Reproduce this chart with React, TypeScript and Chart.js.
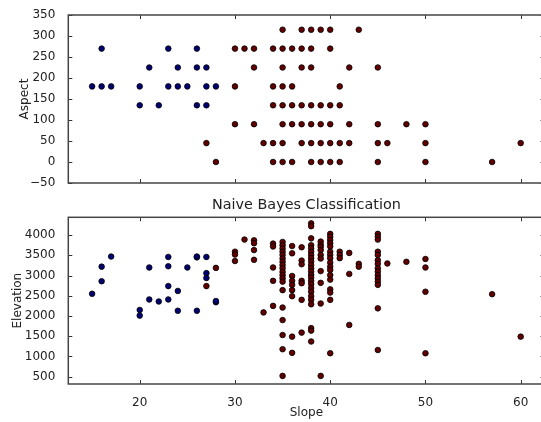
import React, { useEffect, useRef } from "react";
import { Chart, registerables } from "chart.js";

Chart.register(...registerables);

// Slope vs Aspect, predicted class 0
const aspectSlope0 = [16, 23, 26, 21, 24, 26, 27, 15, 16, 17, 20, 23, 24, 25, 27, 28, 20, 22, 26, 27];
const aspectValue0 = [270, 270, 270, 225, 225, 225, 225, 180, 180, 180, 180, 180, 180, 180, 180, 180, 135, 135, 135, 135];

// Slope vs Aspect, predicted class 1
const aspectSlope1 = [
  35, 37, 38, 39, 40, 43,
  30, 31, 32, 34, 35, 36, 37, 38, 40,
  32, 35, 37, 38, 42, 45,
  30, 34, 35, 36, 41,
  34, 35, 36, 37, 38, 39, 40, 41,
  30, 32, 35, 36, 37, 38, 39, 40, 42, 45, 48, 50,
  27, 33, 34, 35, 37, 38, 39, 40, 41, 42, 45, 46, 50, 60,
  28, 34, 35, 36, 38, 39, 40, 41, 45, 50, 57,
];
const aspectValue1 = [
  315, 315, 315, 315, 315, 315,
  270, 270, 270, 270, 270, 270, 270, 270, 270,
  225, 225, 225, 225, 225, 225,
  180, 180, 180, 180, 180,
  135, 135, 135, 135, 135, 135, 135, 135,
  90, 90, 90, 90, 90, 90, 90, 90, 90, 90, 90, 90,
  45, 45, 45, 45, 45, 45, 45, 45, 45, 45, 45, 45, 45, 45,
  0, 0, 0, 0, 0, 0, 0, 0, 0, 0, 0,
];

// Slope vs Elevation, predicted class 0
const elevSlope0 = [15, 16, 16, 17, 20, 20, 21, 21, 22, 23, 23, 23, 23, 24, 24, 25, 26, 26, 26, 27, 27, 27, 28, 28];
const elevValue0 = [2550, 3220, 2860, 3470, 2150, 2010, 3200, 2410, 2360, 3460, 3230, 2740, 2410, 2620, 2130, 3200, 3450, 3470, 2130, 3460, 3060, 2940, 2340, 2370];

// Slope vs Elevation, predicted class 1
const elevSlope1 = [
  27, 28, 30, 30, 30, 31, 32, 32, 32, 32, 33,
  34, 34, 34, 34, 34,
  35, 35, 35, 35, 35, 35, 35, 35, 35, 35, 35, 35, 35, 35, 35, 35, 35, 35, 35,
  36, 36, 36, 36, 36, 36, 36, 36, 36,
  37, 37, 37, 37, 37, 37, 37,
  38, 38, 38, 38, 38, 38, 38, 38, 38, 38, 38, 38, 38, 38, 38, 38, 38, 38, 38, 38, 38, 38, 38, 38,
  39, 39, 39, 39, 39, 39, 39, 39, 39, 39,
  40, 40, 40, 40, 40, 40, 40, 40, 40, 40, 40, 40, 40, 40, 40, 40, 40,
  41, 41, 41,
  42, 42, 42,
  43, 43,
  45, 45, 45, 45, 45, 45, 45, 45, 45, 45, 45, 45, 45, 45, 45,
  46, 48, 50, 50, 50, 50, 57, 60,
];
const elevValue1 = [
  2740, 3190, 3590, 3520, 3360, 3890, 3870, 3800, 3630, 3390, 2090,
  3790, 3720, 3200, 2870, 2250,
  3830, 3750, 3670, 3590, 3510, 3420, 3340, 3260, 3180, 3090, 3010, 2930, 2850, 2640, 2210, 1900, 1530, 1180, 520,
  3730, 3550, 2990, 2870, 2770, 2640, 2490, 1490, 1090,
  3700, 3370, 3280, 2870, 2810, 2400, 1590,
  4290, 4220, 3920, 3750, 3670, 3590, 3510, 3430, 3350, 3260, 3180, 3100, 3020, 2950, 2870, 2790, 2690, 2600, 2490, 2400, 2290, 1700, 1640, 1370,
  3840, 3760, 3710, 3630, 3510, 3420, 3110, 2820, 2310, 520,
  4030, 3960, 3880, 3800, 3720, 3590, 3510, 3430, 3320, 3220, 3140, 3010, 2900, 2660, 2580, 2400, 1080,
  3590, 3510, 3430,
  3560, 3040, 1780,
  3290, 3220,
  4030, 3960, 3890, 3590, 3510, 3380, 3290, 3180, 3100, 3010, 2930, 2850, 2770, 2190, 1160,
  3300, 3340, 3410, 3200, 2600, 1080, 2540, 1490,
];

const slopeRange = [12.5, 62.5];
const aspectRange = [-50, 350];
const elevRange = [320, 4440];

const slopeTicks = [20, 30, 40, 50, 60];
const aspectTicks = [-50, 0, 50, 100, 150, 200, 250, 300, 350];
const elevTicks = [500, 1000, 1500, 2000, 2500, 3000, 3500, 4000];

const FONT = '"DejaVu Sans", sans-serif';
const TEXT = "#222";
const BLUE = "#000070";
const RED = "#600000";

const zip = (xs: number[], ys: number[]) => xs.map((x, i) => ({ x, y: ys[i] }));

const fmt = (v: number | string) => String(v).replace("-", "\u2212");

const fixedTicks = (values: number[]) => (s: any) => {
  s.ticks = values.map((value) => ({ value }));
};

// Box frame with inward tick marks on all four sides
const framePlugin = {
  id: "frame",
  afterDraw(chart: any) {
    const { ctx, chartArea: a, scales } = chart;
    const len = 4;
    ctx.save();
    ctx.strokeStyle = "#333";
    ctx.lineWidth = 1;
    ctx.beginPath();
    for (const t of scales.x.ticks) {
      const px = Math.round(scales.x.getPixelForValue(t.value)) + 0.5;
      ctx.moveTo(px, a.bottom);
      ctx.lineTo(px, a.bottom - len);
      ctx.moveTo(px, a.top);
      ctx.lineTo(px, a.top + len);
    }
    for (const t of scales.y.ticks) {
      const py = Math.round(scales.y.getPixelForValue(t.value)) + 0.5;
      ctx.moveTo(a.left, py);
      ctx.lineTo(a.left + len, py);
      ctx.moveTo(a.right, py);
      ctx.lineTo(a.right - len, py);
    }
    ctx.stroke();
    ctx.lineWidth = 1.5;
    ctx.strokeStyle = "#444";
    ctx.strokeRect(a.left, a.top, a.right - a.left, a.bottom - a.top);
    ctx.restore();
  },
};

const pointStyle = (color: string) => ({
  backgroundColor: color,
  borderColor: "#000",
  borderWidth: 0.8,
  pointRadius: 2.8,
  pointHoverRadius: 2.8,
});

export default function App() {
  const topRef = useRef<HTMLCanvasElement>(null);
  const botRef = useRef<HTMLCanvasElement>(null);

  useEffect(() => {
    Chart.defaults.font.family = FONT;
    const tickFont = { family: FONT, size: 12 };

    const top = new Chart(topRef.current!, {
      type: "scatter",
      data: {
        datasets: [
          { data: zip(aspectSlope0, aspectValue0), ...pointStyle(BLUE) },
          { data: zip(aspectSlope1, aspectValue1), ...pointStyle(RED) },
        ],
      },
      options: {
        animation: false,
        responsive: false,
        devicePixelRatio: 1,
        layout: { padding: { top: 15, right: 15.5, bottom: 0, left: 0 } },
        plugins: { legend: { display: false }, tooltip: { enabled: false } },
        scales: {
          x: {
            type: "linear",
            min: slopeRange[0],
            max: slopeRange[1],
            afterBuildTicks: fixedTicks(slopeTicks),
            ticks: { display: false },
            grid: { display: false },
            border: { display: false },
            afterFit(s: any) {
              s.height = 17;
            },
          },
          y: {
            type: "linear",
            min: aspectRange[0],
            max: aspectRange[1],
            afterBuildTicks: fixedTicks(aspectTicks),
            ticks: { padding: 5, color: TEXT, font: tickFont, callback: fmt },
            grid: { display: false },
            border: { display: false },
            title: { display: true, text: "Aspect", color: TEXT, font: tickFont, padding: { top: 17.8, bottom: 0 } },
            afterFit(s: any) {
              s.width = 68.3;
            },
          },
        },
      } as any,
      plugins: [framePlugin],
    });

    const bottom = new Chart(botRef.current!, {
      type: "scatter",
      data: {
        datasets: [
          { data: zip(elevSlope0, elevValue0), ...pointStyle(BLUE) },
          { data: zip(elevSlope1, elevValue1), ...pointStyle(RED) },
        ],
      },
      options: {
        animation: false,
        responsive: false,
        devicePixelRatio: 1,
        layout: { padding: { top: 0, right: 15.5, bottom: 0, left: 0 } },
        plugins: {
          legend: { display: false },
          tooltip: { enabled: false },
          title: {
            display: true,
            text: "Naive Bayes Classification",
            fullSize: false,
            color: TEXT,
            font: { family: FONT, size: 14.4, weight: "normal", lineHeight: 1 },
            padding: { top: 2.2, bottom: 4.7 },
          },
        },
        scales: {
          x: {
            type: "linear",
            min: slopeRange[0],
            max: slopeRange[1],
            afterBuildTicks: fixedTicks(slopeTicks),
            ticks: { padding: 4, color: TEXT, font: tickFont, callback: fmt },
            grid: { display: false },
            border: { display: false },
            title: { display: true, text: "Slope", color: TEXT, font: tickFont, padding: { top: 0, bottom: 2.1 } },
            afterFit(s: any) {
              s.height = 38;
            },
          },
          y: {
            type: "linear",
            min: elevRange[0],
            max: elevRange[1],
            afterBuildTicks: fixedTicks(elevTicks),
            ticks: { padding: 5, color: TEXT, font: tickFont, callback: fmt },
            grid: { display: false },
            border: { display: false },
            title: { display: true, text: "Elevation", color: TEXT, font: tickFont, padding: { top: 10.8, bottom: 0 } },
            afterFit(s: any) {
              s.width = 68.3;
            },
          },
        },
      } as any,
      plugins: [framePlugin],
    });

    return () => {
      top.destroy();
      bottom.destroy();
    };
  }, []);

  return (
    <div
      style={{
        position: "fixed",
        left: 0,
        top: 0,
        width: 541,
        height: 422,
        overflow: "hidden",
        background: "#fff",
      }}
    >
      <canvas
        ref={topRef}
        width={560}
        height={200}
        style={{ position: "absolute", left: 0, top: 0, width: 560, height: 200 }}
      />
      <canvas
        ref={botRef}
        width={560}
        height={226}
        style={{ position: "absolute", left: 0, top: 196, width: 560, height: 226 }}
      />
    </div>
  );
}
